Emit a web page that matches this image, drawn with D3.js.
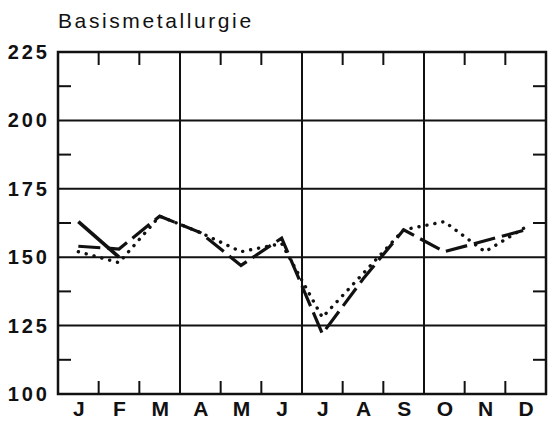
<!DOCTYPE html>
<html><head><meta charset="utf-8">
<script src="https://cdn.jsdelivr.net/npm/d3@7"></script>
<style>
html,body{margin:0;padding:0;background:#fff;}
svg{display:block;}
text{font-family:"Liberation Sans",Arial,sans-serif;fill:#111;}
</style></head>
<body>
<script>
const months = ["J","F","M","A","M","J","J","A","S","O","N","D"];
const yTicks = [100,125,150,175,200,225];
const minorTicks = [112.5,137.5,162.5,187.5,212.5];
const seriesSolid = [163,150];
const seriesDashed = [154,153,165,159,147,157,122,142,160,152,156,160];
const seriesDotted = [152,148,165,159,152,155,128,144,160,163,152,161];
const title = "Basismetallurgie";

const W=549,H=422;
const L=58,R=546,T=52,B=394;
const svg=d3.select("body").append("svg").attr("width",W).attr("height",H);

const x=d3.scaleBand().domain(d3.range(12)).range([L,R]).padding(0);
const xc=i=>x(i)+x.bandwidth()/2;
const y=d3.scaleLinear().domain([100,225]).range([B,T]);

// title
svg.append("text").attr("x",58).attr("y",28).attr("font-size",21)
  .attr("letter-spacing",2.6).text(title);

// grid lines
const g=svg.append("g").attr("stroke","#111").attr("fill","none");
[150,175,200,125].forEach(v=>{
  g.append("line").attr("x1",L).attr("x2",R).attr("y1",y(v)).attr("y2",y(v)).attr("stroke-width",2);
});
[3,6,9].forEach(i=>{
  g.append("line").attr("x1",x(i)).attr("x2",x(i)).attr("y1",T).attr("y2",B).attr("stroke-width",2);
});
// month ticks top/bottom
[1,2,4,5,7,8,10,11].forEach(i=>{
  g.append("line").attr("x1",x(i)).attr("x2",x(i)).attr("y1",T).attr("y2",T+13).attr("stroke-width",2);
  g.append("line").attr("x1",x(i)).attr("x2",x(i)).attr("y1",B).attr("y2",B-13).attr("stroke-width",2);
});
// minor ticks left/right
minorTicks.forEach(v=>{
  g.append("line").attr("x1",L).attr("x2",L+13).attr("y1",y(v)).attr("y2",y(v)).attr("stroke-width",2);
  g.append("line").attr("x1",R).attr("x2",R-13).attr("y1",y(v)).attr("y2",y(v)).attr("stroke-width",2);
});
// frame
g.append("rect").attr("x",L).attr("y",T).attr("width",R-L).attr("height",B-T).attr("stroke-width",2.5);

// y axis labels
const ya=svg.append("g").attr("transform",`translate(${L},0)`)
  .call(d3.axisLeft(y).tickValues(yTicks).tickSize(0).tickPadding(8));
ya.select(".domain").remove();
ya.selectAll("text").attr("font-size",20).attr("font-weight","bold")
  .attr("letter-spacing",3).attr("font-family","Liberation Sans, Arial, sans-serif").attr("fill","#111");

// x labels
const xa=svg.append("g").attr("transform",`translate(0,${B})`)
  .call(d3.axisBottom(d3.scalePoint().domain(d3.range(12)).range([xc(0),xc(11)])).tickSize(0).tickPadding(7).tickFormat(i=>months[i]));
xa.select(".domain").remove();
xa.selectAll("text").attr("font-size",21).attr("font-weight","bold")
  .attr("font-family","Liberation Sans, Arial, sans-serif").attr("fill","#111");

const line=d3.line().x((d,i)=>xc(i)).y(d=>y(d));
const lg=svg.append("g").attr("fill","none").attr("stroke","#111");
lg.append("path").datum(seriesDotted).attr("d",line).attr("stroke-width",3.4)
  .attr("stroke-dasharray","0.1 8").attr("stroke-linecap","round");
lg.append("path").datum(seriesDashed).attr("d",line).attr("stroke-width",3.2)
  .attr("stroke-dasharray","22 7");
lg.append("path").datum(seriesSolid).attr("d",line).attr("stroke-width",3.6);
</script>
</body></html>
